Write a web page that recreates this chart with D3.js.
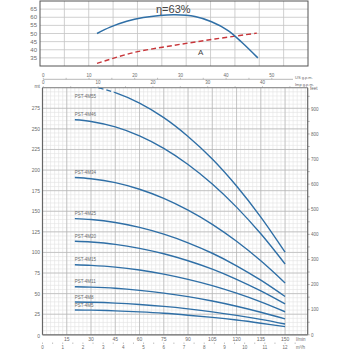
<!DOCTYPE html>
<html><head><meta charset="utf-8">
<script src="https://cdn.jsdelivr.net/npm/d3@7"></script>
<style>
html,body{margin:0;padding:0;background:#fff;}
svg{display:block;font-family:"Liberation Sans","DejaVu Sans",sans-serif;}
</style></head>
<body>
<svg id="c" width="350" height="350"></svg>
<script>
// ---------- DATA ----------
const flows = [20, 30, 45, 60, 75, 90, 105, 120, 135, 150]; // l/min
const h4M55 = [304, 301.6, 294, 281.2, 263.6, 240.8, 213.4, 180.6, 142.9, 100.3];
const h4M46 = [261, 259, 252.4, 241.5, 226.3, 206.8, 183.1, 155, 122.6, 86];
const h4M34 = [191, 189.5, 184.7, 176.7, 165.6, 151.3, 134.1, 113.5, 89.8, 63];
const h4M25 = [141, 139.9, 136.3, 130.4, 122.2, 111.7, 99, 83.8, 66.3, 46.5];
const h4M20 = [113.5, 112.6, 109.8, 105, 98.4, 89.9, 79.7, 67.4, 53.3, 37.5];
const h4M15 = [85, 84.3, 82.2, 78.6, 73.7, 67.3, 59.7, 50.5, 40, 28];
const h4M11 = [58.4, 57.9, 56.5, 54, 50.6, 46.3, 41, 34.7, 27.4, 19.3];
const h4M8  = [39.8, 39.5, 38.5, 36.8, 34.5, 31.5, 27.9, 23.6, 18.7, 13.1];
const h4M5  = [30.1, 29.9, 29.1, 27.8, 26.1, 23.8, 21.1, 17.9, 14.1, 9.9];
const seriesNames = ["PST-4M55","PST-4M46","PST-4M34","PST-4M25","PST-4M20","PST-4M15","PST-4M11","PST-4M8","PST-4M5"];
const seriesValues = [h4M55,h4M46,h4M34,h4M25,h4M20,h4M15,h4M11,h4M8,h4M5];
const dashedUntilFlow = 44; // 4M55 drawn dashed at low flow

// efficiency chart (own flow units)
const effFlow = [11.7, 14.4, 17.8, 21.2, 24.6, 27.7, 31.8, 35.2, 38.6, 41.4, 44.7];
const effVal  = [50, 53.9, 57.5, 59.8, 61.1, 61.5, 60.4, 57.2, 51.8, 44.6, 35];
const aFlow = [11.7, 19.1, 27.3, 35.9, 44.5];
const aVal  = [31.6, 38.2, 42.6, 46.6, 50.2];
const effTicks = [35, 40, 45, 50, 55, 60, 65];

const headTicks = [0, 25, 50, 75, 100, 125, 150, 175, 200, 225, 250, 275];
const lminTicks = [0, 15, 30, 45, 60, 75, 90, 105, 120, 135, 150];
const m3hTicks = [0,1,2,3,4,5,6,7,8,9,10,11,12];
const feetTicks = [0,100,200,300,400,500,600,700,800,900];
const usTicks = [0,10,20,30,40,50];
const impTicks = [0,10,20,30,40];

// ---------- DRAW ----------
const svg = d3.select("#c");
const blue = "#2f6fa6", red = "#c8363a", txt = "#6a6a6a";

// ===== efficiency chart =====
const ex = d3.scaleLinear().domain([0, 55]).range([40, 308]);
const ey = d3.scaleLinear().domain([30, 70]).range([66, 1]);
const eg = svg.append("g");
d3.range(5, 55, 5).forEach(v => eg.append("line").attr("x1", ex(v)).attr("x2", ex(v)).attr("y1", ey(70)).attr("y2", ey(30)).attr("stroke", "#c4c4c4").attr("stroke-width", 0.8));
effTicks.forEach(v => eg.append("line").attr("x1", ex(0)).attr("x2", ex(55)).attr("y1", ey(v)).attr("y2", ey(v)).attr("stroke", "#c4c4c4").attr("stroke-width", 0.8));
eg.append("rect").attr("x", ex(0)).attr("y", ey(70)).attr("width", ex(55) - ex(0)).attr("height", ey(30) - ey(70)).attr("fill", "none").attr("stroke", "#555").attr("stroke-width", 1);
effTicks.forEach(v => eg.append("text").attr("x", 37).attr("y", ey(v) + 2).attr("text-anchor", "end").attr("font-size", 6).attr("fill", txt).text(v));
const eline = d3.line().x(d => ex(d[0])).y(d => ey(d[1])).curve(d3.curveCatmullRom.alpha(0.5));
eg.append("path").attr("d", eline(d3.zip(aFlow, aVal))).attr("fill", "none").attr("stroke", red).attr("stroke-width", 1.4).attr("stroke-dasharray", "5,3");
eg.append("path").attr("d", eline(d3.zip(effFlow, effVal))).attr("fill", "none").attr("stroke", blue).attr("stroke-width", 1.5);
eg.append("text").attr("x", 156).attr("y", 13).attr("font-size", 11).attr("fill", "#444").text("η=63%");
eg.append("text").attr("x", 198).attr("y", 55).attr("font-size", 8).attr("fill", "#444").text("A");

// ===== main chart =====
const x = d3.scaleLinear().domain([0, 164]).range([42.5, 307.7]);
const y = d3.scaleLinear().domain([0, 300]).range([334.8, 87.7]);
const g = svg.append("g");
// minor grid
d3.range(0, 164.1, 2.5).forEach(v => g.append("line").attr("x1", x(v)).attr("x2", x(v)).attr("y1", y(0)).attr("y2", y(300)).attr("stroke", "#e2e2e2").attr("stroke-width", 0.6));
d3.range(0, 301, 5).forEach(v => g.append("line").attr("x1", x(0)).attr("x2", x(164)).attr("y1", y(v)).attr("y2", y(v)).attr("stroke", "#e2e2e2").attr("stroke-width", 0.6));
// major grid
d3.range(15, 164, 15).forEach(v => g.append("line").attr("x1", x(v)).attr("x2", x(v)).attr("y1", y(0)).attr("y2", y(300)).attr("stroke", "#b4b4b4").attr("stroke-width", 0.7));
d3.range(25, 301, 25).forEach(v => g.append("line").attr("x1", x(0)).attr("x2", x(164)).attr("y1", y(v)).attr("y2", y(v)).attr("stroke", "#b4b4b4").attr("stroke-width", 0.7));
// frame
g.append("line").attr("x1", x(0)).attr("x2", x(164)).attr("y1", y(300)).attr("y2", y(300)).attr("stroke", "#777").attr("stroke-width", 0.8);
g.append("line").attr("x1", x(0)).attr("x2", x(0)).attr("y1", y(300)).attr("y2", y(0)).attr("stroke", "#666").attr("stroke-width", 1.2);
g.append("line").attr("x1", x(0)).attr("x2", x(164)).attr("y1", y(0)).attr("y2", y(0)).attr("stroke", "#666").attr("stroke-width", 1.2);
g.append("line").attr("x1", x(164)).attr("x2", x(164)).attr("y1", y(300)).attr("y2", y(0)).attr("stroke", "#666").attr("stroke-width", 1.2);

// left axis labels
headTicks.forEach(v => g.append("text").attr("x", 40).attr("y", y(v) + (v === 0 ? 3.5 : 2)).attr("text-anchor", "end").attr("font-size", 5).attr("fill", txt).text(v));
g.append("text").attr("x", 40).attr("y", 88).attr("text-anchor", "end").attr("font-size", 5).attr("fill", txt).text("mt");

// bottom l/min
lminTicks.forEach(v => { if (v > 0) g.append("text").attr("x", x(v)).attr("y", 340.5).attr("text-anchor", "middle").attr("font-size", 5).attr("fill", txt).text(v); });
g.append("text").attr("x", 296).attr("y", 340.5).attr("font-size", 4.5).attr("fill", txt).text("l/min");
// m3/h row
const xm = d3.scaleLinear().domain([0, 12]).range([x(0), x(150)]);
d3.range(0, 12.6, 0.5).forEach(v => g.append("line").attr("x1", xm(v)).attr("x2", xm(v)).attr("y1", 342.5).attr("y2", 344).attr("stroke", "#888").attr("stroke-width", 0.5));
m3hTicks.forEach(v => g.append("text").attr("x", xm(v)).attr("y", 348.5).attr("text-anchor", "middle").attr("font-size", 4.5).attr("fill", txt).text(v));
g.append("text").attr("x", 296).attr("y", 348.5).attr("font-size", 4.5).attr("fill", txt).text("m³/h");

// right feet axis
const yf = d3.scaleLinear().domain([0, 300 / 0.3048]).range([y(0), y(300)]);
d3.range(0, 951, 50).forEach(v => g.append("line").attr("x1", x(164)).attr("x2", x(164) + 2).attr("y1", yf(v)).attr("y2", yf(v)).attr("stroke", "#666").attr("stroke-width", 0.5));
feetTicks.forEach(v => g.append("text").attr("x", 311).attr("y", yf(v) + 1.8).attr("font-size", 4.5).attr("fill", txt).text(v));
g.append("text").attr("x", 310).attr("y", 90).attr("font-size", 4.5).attr("fill", txt).text("feet");

// top flow axes (US / Imp gpm)
const xus = d3.scaleLinear().domain([0, 10]).range([43.3, 89]);
const ximp = d3.scaleLinear().domain([0, 10]).range([43.3, 98.1]);
g.append("line").attr("x1", xus(0)).attr("x2", 293).attr("y1", 79.3).attr("y2", 79.3).attr("stroke", "#888").attr("stroke-width", 0.6);
d3.range(0, 51, 5).forEach(v => g.append("line").attr("x1", xus(v)).attr("x2", xus(v)).attr("y1", 79.3).attr("y2", 77.8).attr("stroke", "#888").attr("stroke-width", 0.5));
usTicks.forEach(v => g.append("text").attr("x", xus(v)).attr("y", 77.3).attr("text-anchor", "middle").attr("font-size", 4.5).attr("fill", txt).text(v));
g.append("text").attr("x", 295).attr("y", 78.5).attr("font-size", 4).attr("fill", txt).text("US g.p.m.");
d3.range(0, 46, 5).forEach(v => g.append("line").attr("x1", ximp(v)).attr("x2", ximp(v)).attr("y1", y(300)).attr("y2", y(300) - 1.5).attr("stroke", "#888").attr("stroke-width", 0.5));
impTicks.forEach(v => g.append("text").attr("x", ximp(v)).attr("y", 84).attr("text-anchor", "middle").attr("font-size", 4.5).attr("fill", txt).text(v));
g.append("text").attr("x", 295).attr("y", 85.5).attr("font-size", 4).attr("fill", txt).text("Imp g.p.m.");

// clip paths
const defs = svg.append("defs");
defs.append("clipPath").attr("id", "clipAll").append("rect").attr("x", x(0)).attr("y", y(300)).attr("width", x(164) - x(0)).attr("height", y(0) - y(300));
defs.append("clipPath").attr("id", "clipDash").append("rect").attr("x", x(0)).attr("y", y(300)).attr("width", x(dashedUntilFlow) - x(0)).attr("height", y(0) - y(300));
defs.append("clipPath").attr("id", "clipSolid").append("rect").attr("x", x(dashedUntilFlow)).attr("y", y(300)).attr("width", x(164) - x(dashedUntilFlow)).attr("height", y(0) - y(300));

const line = d3.line().x(d => x(d[0])).y(d => y(d[1])).curve(d3.curveCatmullRom.alpha(0.5));
seriesValues.forEach((vals, i) => {
  const d = line(d3.zip(flows, vals));
  if (i === 0) {
    g.append("path").attr("d", d).attr("clip-path", "url(#clipDash)").attr("fill", "none").attr("stroke", blue).attr("stroke-width", 1.4).attr("stroke-dasharray", "5,3");
    g.append("path").attr("d", d).attr("clip-path", "url(#clipSolid)").attr("fill", "none").attr("stroke", blue).attr("stroke-width", 1.4);
  } else {
    g.append("path").attr("d", d).attr("clip-path", "url(#clipAll)").attr("fill", "none").attr("stroke", blue).attr("stroke-width", 1.4);
  }
  const ly = Math.max(y(vals[0]) - 3.5, y(300) + 10);
  g.append("text").attr("x", x(flows[0])).attr("y", ly).attr("font-size", 4.5).attr("fill", txt).text(seriesNames[i]);
});
</script>
</body></html>
